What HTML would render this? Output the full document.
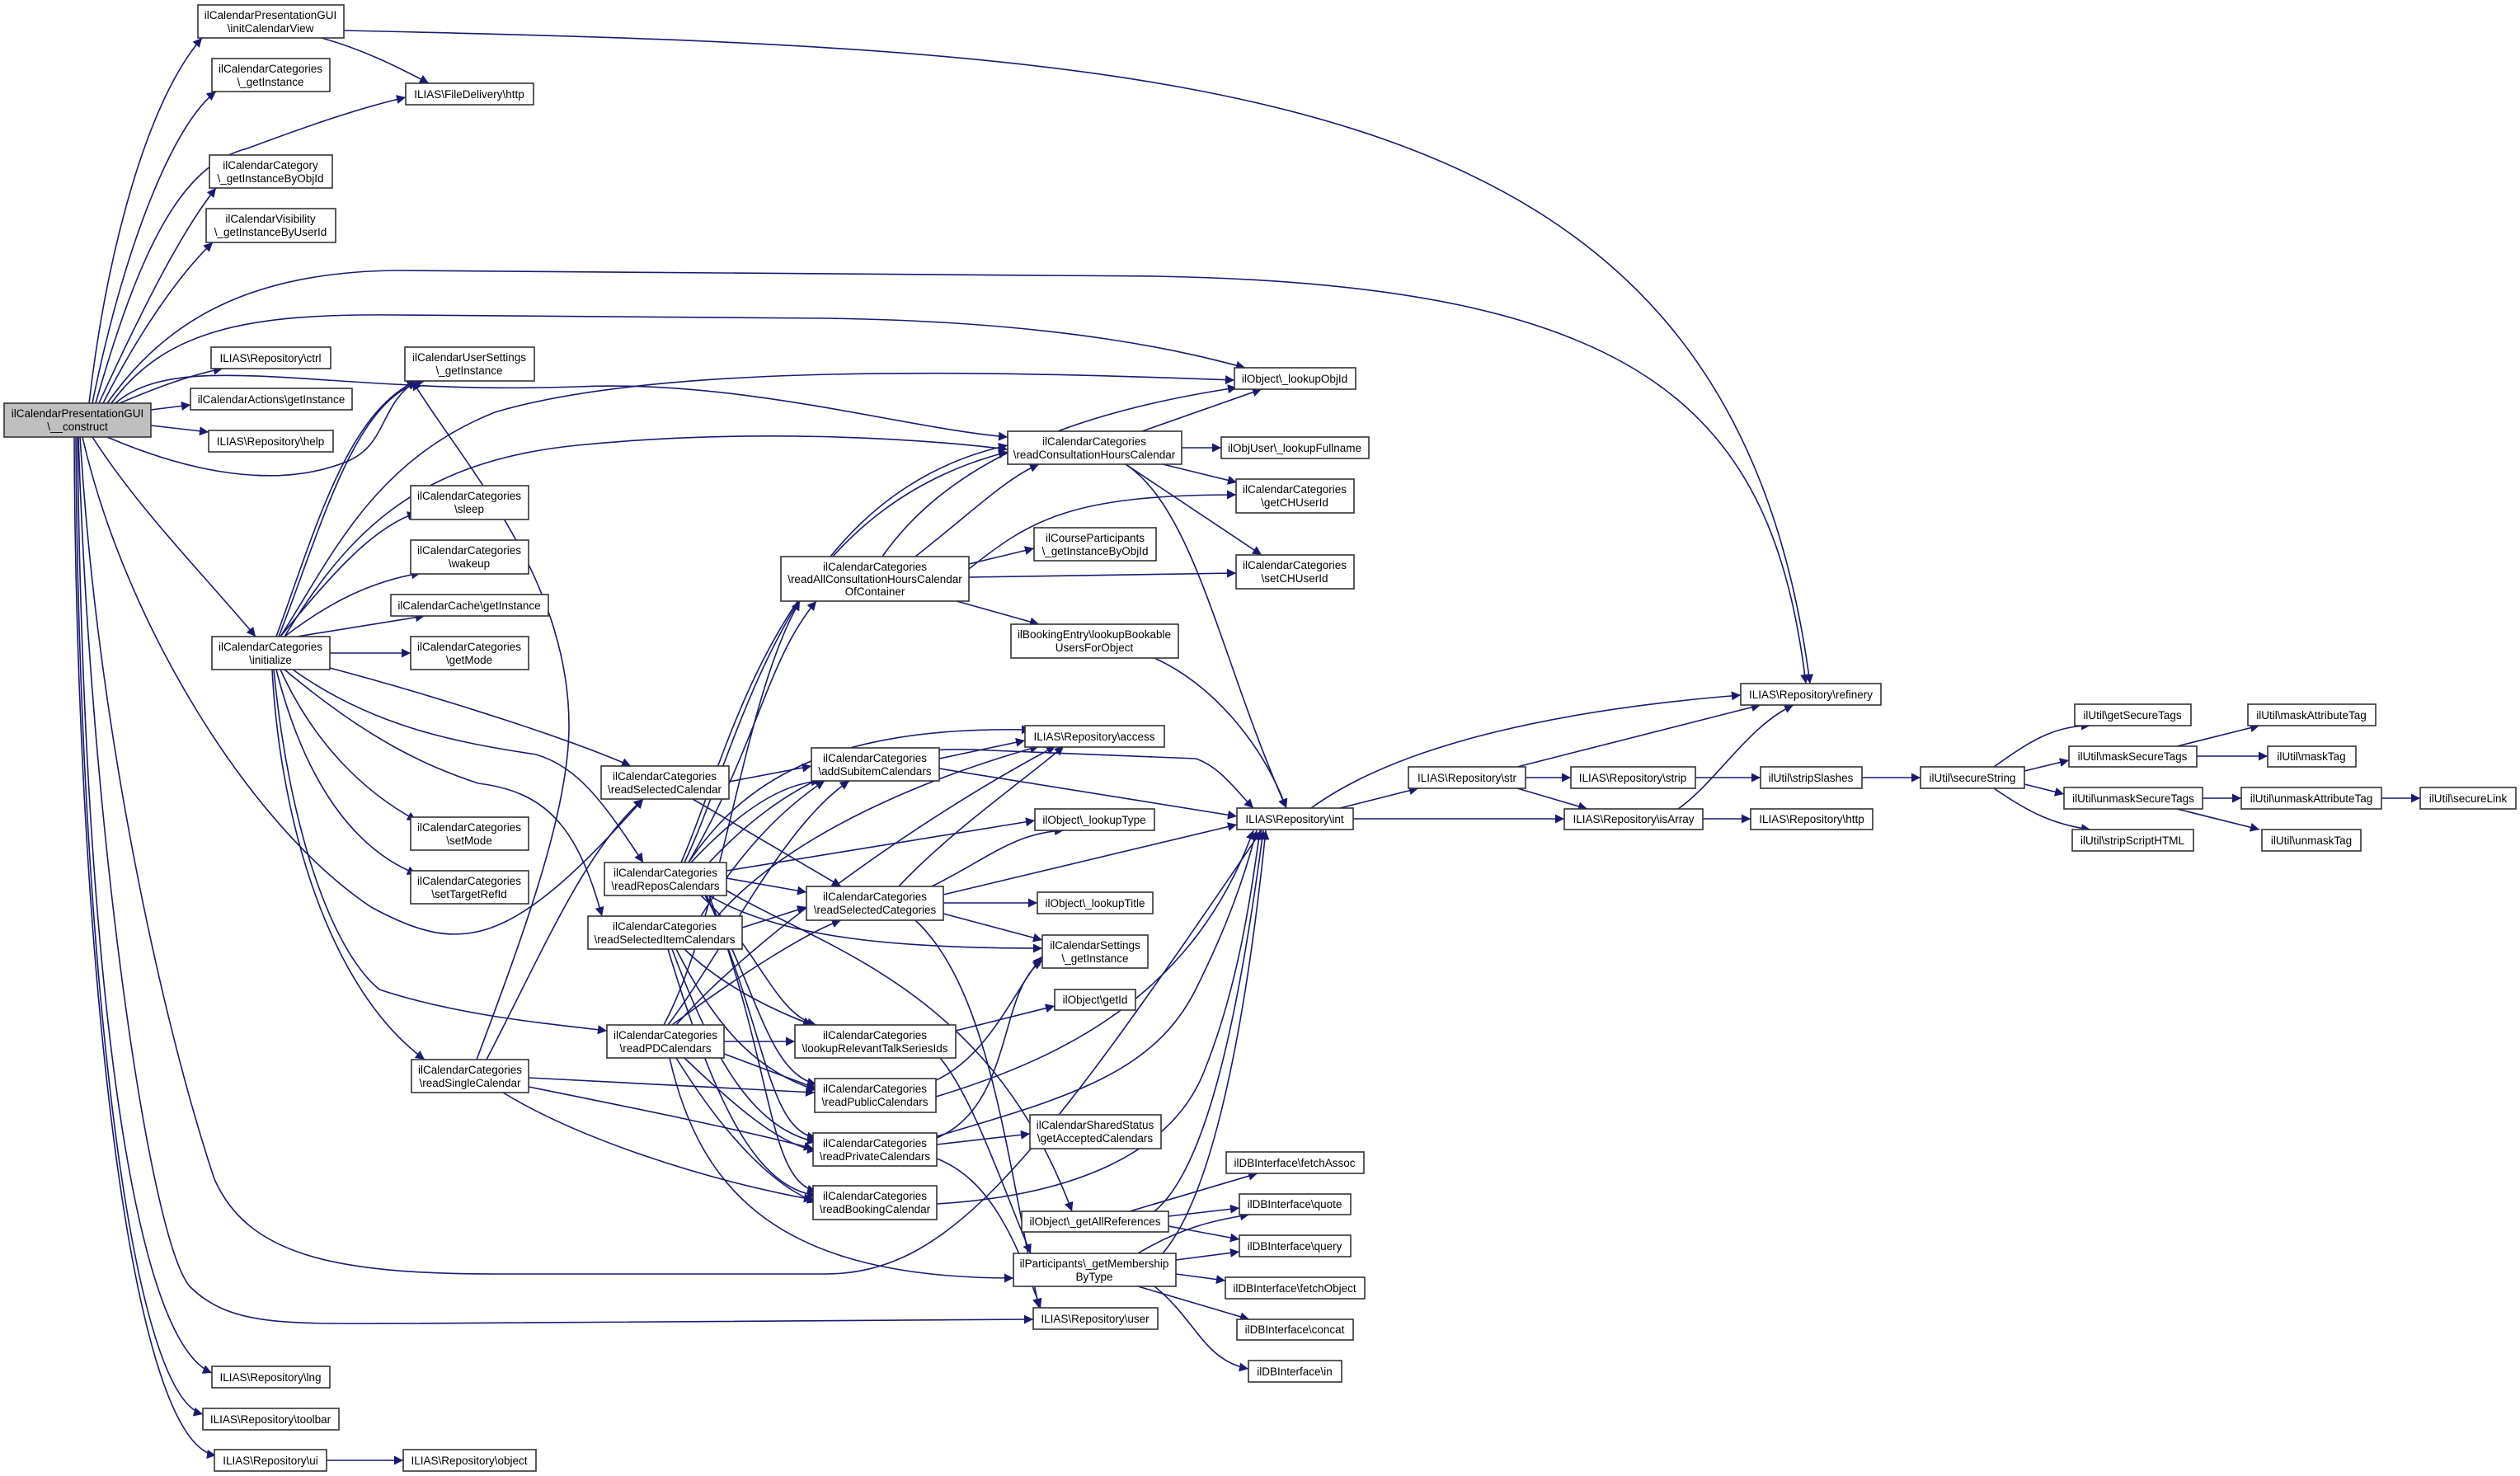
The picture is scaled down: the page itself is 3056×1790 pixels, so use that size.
<!DOCTYPE html>
<html><head><meta charset="utf-8"><style>
html,body{margin:0;padding:0;background:#fff;}
svg{display:block;}
text{font-family:"Liberation Sans",Arial,sans-serif;font-size:13.5px;fill:#000;text-anchor:middle;}
.e{fill:none;stroke:#191970;stroke-width:1.6;marker-end:url(#a);}
rect{fill:#fff;stroke:#333;stroke-width:1.6;}
</style></head><body>
<svg width="3056" height="1790" viewBox="0 0 3056 1790" xmlns="http://www.w3.org/2000/svg">
<defs><marker id="a" viewBox="0 0 10 10" refX="10" refY="5" markerWidth="15" markerHeight="11" markerUnits="userSpaceOnUse" orient="auto"><path d="M0,0 L10,5 L0,10 z" fill="#191970"/></marker></defs>
<g>
<!-- construct -->
<path class="e" d="M108,489 C130,300 180,120 245,46"/>
<path class="e" d="M112,489 C150,300 210,150 262,111"/>
<path class="e" d="M116,489 C170,300 220,200 300,180 C380,150 440,130 492,118"/>
<path class="e" d="M120,489 C170,380 220,280 262,228"/>
<path class="e" d="M125,489 C170,400 220,330 258,294"/>
<path class="e" d="M130,489 C200,390 300,330 480,328 L1400,335 C2000,345 2150,500 2190,829"/>
<path class="e" d="M135,489 C200,400 300,380 480,382 L1000,386 C1300,390 1450,430 1510,446"/>
<path class="e" d="M145,489 C190,470 230,455 270,447"/>
<path class="e" d="M183,497 L231,491"/>
<path class="e" d="M183,516 L253,524"/>
<path class="e" d="M130,530 C200,560 320,600 420,560 C470,540 460,490 505,462"/>
<path class="e" d="M140,489 C220,420 400,480 700,469 C900,460 1100,520 1222,530"/>
<path class="e" d="M112,530 C170,620 250,700 310,772"/>
<path class="e" d="M100,530 C150,750 300,1000 450,1100 C560,1160 620,1150 780,969"/>
<path class="e" d="M97,530 C120,900 200,1250 260,1430 C300,1520 400,1545 600,1545 L1000,1545 C1150,1545 1250,1420 1530,1007"/>
<path class="e" d="M95,530 C110,1000 180,1500 230,1560 C280,1610 350,1605 500,1605 L1253,1600"/>
<path class="e" d="M94,530 C100,1100 150,1620 257,1665"/>
<path class="e" d="M92,530 C95,1100 150,1690 246,1715"/>
<path class="e" d="M90,530 C92,1100 150,1750 262,1765"/>
<path class="e" d="M417,37 C1500,60 2100,100 2195,829"/>
<path class="e" d="M390,46 C440,60 480,80 520,101"/>
<!-- initialize -->
<path class="e" d="M335,772 C380,650 420,500 505,462"/>
<path class="e" d="M338,772 C390,640 430,480 515,462"/>
<path class="e" d="M340,772 C400,680 450,560 600,500 C800,440 1200,450 1497,461"/>
<path class="e" d="M345,772 C420,650 500,560 700,540 C900,520 1100,530 1222,545"/>
<path class="e" d="M340,772 C400,700 450,640 505,622"/>
<path class="e" d="M345,772 C400,730 450,705 510,695"/>
<path class="e" d="M360,772 L515,747"/>
<path class="e" d="M400,792 L498,792"/>
<path class="e" d="M400,810 C550,850 700,900 765,929"/>
<path class="e" d="M355,812 C450,880 550,900 650,915 C700,930 730,970 780,1046"/>
<path class="e" d="M345,812 C450,900 520,930 580,950 C660,960 700,1000 730,1111"/>
<path class="e" d="M340,812 C380,900 440,960 505,995"/>
<path class="e" d="M335,812 C370,950 430,1030 505,1060"/>
<path class="e" d="M332,812 C350,1000 400,1150 460,1200 C550,1230 650,1240 736,1250"/>
<path class="e" d="M330,812 C340,1000 400,1200 515,1285"/>
<!-- readSingle -->
<path class="e" d="M578,1285 C640,1120 690,980 690,880 C690,700 560,560 500,462"/>
<path class="e" d="M590,1285 C660,1150 710,1030 780,969"/>
<path class="e" d="M641,1307 L988,1325"/>
<path class="e" d="M641,1318 C750,1340 900,1370 986,1393"/>
<path class="e" d="M610,1325 C700,1380 850,1430 986,1455"/>
<!-- readSelCal -->
<path class="e" d="M884,948 L984,929"/>
<path class="e" d="M840,969 L1020,1075"/>
<!-- readRepos -->
<path class="e" d="M830,1046 C900,900 950,600 1222,540"/>
<path class="e" d="M826,1046 C890,900 940,620 1222,548"/>
<path class="e" d="M835,1046 C920,900 930,800 990,729"/>
<path class="e" d="M835,1046 C900,950 1000,880 1250,885"/>
<path class="e" d="M838,1046 C900,980 950,950 995,947"/>
<path class="e" d="M881,1056 L1255,995"/>
<path class="e" d="M881,1065 L978,1082"/>
<path class="e" d="M860,1086 C950,1140 1100,1150 1264,1150"/>
<path class="e" d="M850,1086 C920,1150 940,1230 990,1243"/>
<path class="e" d="M855,1086 C920,1200 930,1300 990,1315"/>
<path class="e" d="M857,1086 C930,1250 930,1370 990,1380"/>
<path class="e" d="M860,1086 C940,1300 930,1430 990,1445"/>
<path class="e" d="M881,1080 C1000,1150 1200,1200 1300,1469"/>
<path class="e" d="M860,1046 C950,950 1050,900 1200,910 L1450,920 C1480,930 1500,960 1520,980"/>
<!-- readSelItem -->
<path class="e" d="M900,1125 L978,1100"/>
<path class="e" d="M850,1111 C900,1030 950,980 1000,947"/>
<path class="e" d="M830,1151 C880,1200 950,1230 985,1243"/>
<path class="e" d="M820,1151 C870,1250 920,1300 990,1322"/>
<path class="e" d="M815,1151 C870,1300 920,1370 990,1385"/>
<path class="e" d="M810,1151 C870,1350 920,1440 990,1450"/>
<path class="e" d="M870,1111 C950,1020 1100,950 1260,905"/>
<!-- readPD -->
<path class="e" d="M878,1263 L964,1263"/>
<path class="e" d="M810,1243 C880,1150 950,1000 1030,947"/>
<path class="e" d="M815,1243 C900,1180 980,1130 1020,1116"/>
<path class="e" d="M820,1243 C900,1150 1100,1000 1280,905"/>
<path class="e" d="M878,1278 L990,1320"/>
<path class="e" d="M830,1283 C900,1350 950,1390 990,1395"/>
<path class="e" d="M820,1283 C880,1380 940,1440 990,1458"/>
<path class="e" d="M812,1283 C850,1450 950,1550 1229,1550"/>
<path class="e" d="M805,1243 C880,1100 900,850 970,729"/>
<!-- addSub -->
<path class="e" d="M1139,920 L1243,898"/>
<path class="e" d="M1139,932 L1500,990"/>
<!-- readSelCat -->
<path class="e" d="M1090,1075 C1150,1010 1250,940 1290,905"/>
<path class="e" d="M1130,1075 C1200,1040 1230,1010 1290,1007"/>
<path class="e" d="M1144,1085 L1500,1000"/>
<path class="e" d="M1144,1095 L1258,1095"/>
<path class="e" d="M1144,1108 L1264,1140"/>
<path class="e" d="M1110,1116 C1200,1200 1220,1400 1260,1586"/>
<!-- readAllCons -->
<path class="e" d="M1070,675 C1150,560 1300,500 1500,470"/>
<path class="e" d="M1110,675 C1180,620 1220,580 1260,563"/>
<path class="e" d="M1175,690 C1250,630 1300,600 1499,600"/>
<path class="e" d="M1175,684 L1254,665"/>
<path class="e" d="M1175,700 L1499,695"/>
<path class="e" d="M1160,729 L1260,757"/>
<!-- readConsH -->
<path class="e" d="M1385,523 L1530,472"/>
<path class="e" d="M1433,543 L1481,543"/>
<path class="e" d="M1410,563 L1500,585"/>
<path class="e" d="M1365,563 L1530,673"/>
<path class="e" d="M1365,563 C1450,620 1480,800 1560,980"/>
<path class="e" d="M1400,798 C1470,830 1530,900 1560,980"/>
<!-- lookupRelevant -->
<path class="e" d="M1159,1250 L1279,1220"/>
<path class="e" d="M1140,1283 C1180,1330 1220,1450 1250,1520"/>
<!-- readPublic / private / booking -->
<path class="e" d="M1135,1310 C1200,1280 1230,1200 1264,1160"/>
<path class="e" d="M1135,1330 C1300,1280 1450,1200 1520,1007"/>
<path class="e" d="M1136,1388 L1249,1375"/>
<path class="e" d="M1136,1380 C1230,1340 1210,1200 1264,1165"/>
<path class="e" d="M1136,1405 C1200,1430 1230,1500 1262,1586"/>
<path class="e" d="M1136,1378 C1300,1330 1400,1300 1450,1200 C1490,1120 1510,1060 1524,1007"/>
<path class="e" d="M1136,1460 C1300,1450 1420,1400 1460,1300 C1500,1200 1515,1100 1528,1007"/>
<!-- getAllRef -->
<path class="e" d="M1370,1469 L1525,1423"/>
<path class="e" d="M1417,1475 L1503,1465"/>
<path class="e" d="M1417,1487 L1503,1503"/>
<path class="e" d="M1400,1469 C1460,1420 1500,1250 1532,1007"/>
<!-- membership -->
<path class="e" d="M1380,1520 C1430,1490 1470,1480 1515,1473"/>
<path class="e" d="M1426,1528 L1503,1518"/>
<path class="e" d="M1426,1545 L1486,1553"/>
<path class="e" d="M1380,1560 L1515,1600"/>
<path class="e" d="M1400,1560 C1450,1600 1460,1650 1514,1660"/>
<path class="e" d="M1410,1520 C1470,1450 1510,1250 1535,1007"/>
<!-- int and right part -->
<path class="e" d="M1625,980 L1720,956"/>
<path class="e" d="M1641,993 L1897,993"/>
<path class="e" d="M1590,980 C1700,900 1900,860 2111,843"/>
<path class="e" d="M1840,930 L2135,855"/>
<path class="e" d="M1850,943 L1905,943"/>
<path class="e" d="M1840,956 L1925,981"/>
<path class="e" d="M2056,943 L2135,943"/>
<path class="e" d="M2258,943 L2329,943"/>
<path class="e" d="M2065,993 L2123,993"/>
<path class="e" d="M2035,981 C2080,950 2120,880 2175,855"/>
<path class="e" d="M2418,930 C2460,900 2490,880 2535,880"/>
<path class="e" d="M2455,935 L2509,922"/>
<path class="e" d="M2455,951 L2503,963"/>
<path class="e" d="M2418,956 C2460,985 2490,1000 2535,1006"/>
<path class="e" d="M2640,905 L2740,880"/>
<path class="e" d="M2664,917 L2750,917"/>
<path class="e" d="M2671,968 L2718,968"/>
<path class="e" d="M2640,981 L2740,1006"/>
<path class="e" d="M2888,968 L2935,968"/>
<path class="e" d="M396,1771 L489,1771"/>
</g>
<g>
<rect x="5" y="489" width="178" height="41" style="fill:#bfbfbf"/><text x="94" y="506">ilCalendarPresentationGUI</text><text x="94" y="522">\__construct</text>
<rect x="240" y="6" width="177" height="40"/><text x="328" y="23">ilCalendarPresentationGUI</text><text x="328" y="39">\initCalendarView</text>
<rect x="257" y="71" width="143" height="40"/><text x="328" y="88">ilCalendarCategories</text><text x="328" y="104">\_getInstance</text>
<rect x="492" y="101" width="155" height="26"/><text x="569" y="119">ILIAS\FileDelivery\http</text>
<rect x="254" y="188" width="149" height="40"/><text x="328" y="205">ilCalendarCategory</text><text x="328" y="221">\_getInstanceByObjId</text>
<rect x="250" y="253" width="157" height="41"/><text x="328" y="270">ilCalendarVisibility</text><text x="328" y="286">\_getInstanceByUserId</text>
<rect x="256" y="421" width="145" height="26"/><text x="328" y="439">ILIAS\Repository\ctrl</text>
<rect x="231" y="471" width="196" height="26"/><text x="329" y="489">ilCalendarActions\getInstance</text>
<rect x="253" y="522" width="151" height="26"/><text x="328" y="540">ILIAS\Repository\help</text>
<rect x="491" y="421" width="157" height="41"/><text x="569" y="438">ilCalendarUserSettings</text><text x="569" y="454">\_getInstance</text>
<rect x="498" y="589" width="143" height="41"/><text x="569" y="606">ilCalendarCategories</text><text x="569" y="622">\sleep</text>
<rect x="498" y="655" width="143" height="41"/><text x="569" y="672">ilCalendarCategories</text><text x="569" y="688">\wakeup</text>
<rect x="474" y="721" width="191" height="26"/><text x="569" y="739">ilCalendarCache\getInstance</text>
<rect x="257" y="772" width="143" height="40"/><text x="328" y="789">ilCalendarCategories</text><text x="328" y="805">\initialize</text>
<rect x="498" y="772" width="143" height="40"/><text x="569" y="789">ilCalendarCategories</text><text x="569" y="805">\getMode</text>
<rect x="498" y="991" width="143" height="40"/><text x="569" y="1008">ilCalendarCategories</text><text x="569" y="1024">\setMode</text>
<rect x="498" y="1056" width="143" height="40"/><text x="569" y="1073">ilCalendarCategories</text><text x="569" y="1089">\setTargetRefId</text>
<rect x="729" y="929" width="155" height="40"/><text x="806" y="946">ilCalendarCategories</text><text x="806" y="962">\readSelectedCalendar</text>
<rect x="733" y="1046" width="148" height="40"/><text x="807" y="1063">ilCalendarCategories</text><text x="807" y="1079">\readReposCalendars</text>
<rect x="713" y="1111" width="187" height="40"/><text x="806" y="1128">ilCalendarCategories</text><text x="806" y="1144">\readSelectedItemCalendars</text>
<rect x="736" y="1243" width="142" height="40"/><text x="807" y="1260">ilCalendarCategories</text><text x="807" y="1276">\readPDCalendars</text>
<rect x="499" y="1285" width="142" height="40"/><text x="570" y="1302">ilCalendarCategories</text><text x="570" y="1318">\readSingleCalendar</text>
<rect x="257" y="1657" width="143" height="26"/><text x="328" y="1675">ILIAS\Repository\lng</text>
<rect x="246" y="1708" width="165" height="26"/><text x="328" y="1726">ILIAS\Repository\toolbar</text>
<rect x="260" y="1758" width="136" height="26"/><text x="328" y="1776">ILIAS\Repository\ui</text>
<rect x="489" y="1758" width="161" height="26"/><text x="569" y="1776">ILIAS\Repository\object</text>
<rect x="947" y="675" width="228" height="54"/><text x="1061" y="692">ilCalendarCategories</text><text x="1061" y="707">\readAllConsultationHoursCalendar</text><text x="1061" y="722">OfContainer</text>
<rect x="1222" y="523" width="211" height="40"/><text x="1327" y="540">ilCalendarCategories</text><text x="1327" y="556">\readConsultationHoursCalendar</text>
<rect x="1497" y="446" width="147" height="26"/><text x="1570" y="464">ilObject\_lookupObjId</text>
<rect x="1481" y="530" width="179" height="26"/><text x="1570" y="548">ilObjUser\_lookupFullname</text>
<rect x="1499" y="581" width="143" height="41"/><text x="1570" y="598">ilCalendarCategories</text><text x="1570" y="614">\getCHUserId</text>
<rect x="1254" y="640" width="148" height="40"/><text x="1328" y="657">ilCourseParticipants</text><text x="1328" y="673">\_getInstanceByObjId</text>
<rect x="1499" y="673" width="143" height="41"/><text x="1570" y="690">ilCalendarCategories</text><text x="1570" y="706">\setCHUserId</text>
<rect x="1226" y="757" width="203" height="41"/><text x="1327" y="774">ilBookingEntry\lookupBookable</text><text x="1327" y="790">UsersForObject</text>
<rect x="1243" y="880" width="169" height="26"/><text x="1327" y="898">ILIAS\Repository\access</text>
<rect x="984" y="907" width="155" height="40"/><text x="1061" y="924">ilCalendarCategories</text><text x="1061" y="940">\addSubitemCalendars</text>
<rect x="1500" y="980" width="141" height="26"/><text x="1570" y="998">ILIAS\Repository\int</text>
<rect x="1255" y="981" width="145" height="26"/><text x="1327" y="999">ilObject\_lookupType</text>
<rect x="978" y="1075" width="166" height="41"/><text x="1061" y="1092">ilCalendarCategories</text><text x="1061" y="1108">\readSelectedCategories</text>
<rect x="1258" y="1082" width="140" height="26"/><text x="1328" y="1100">ilObject\_lookupTitle</text>
<rect x="1264" y="1134" width="128" height="40"/><text x="1328" y="1151">ilCalendarSettings</text><text x="1328" y="1167">\_getInstance</text>
<rect x="1279" y="1200" width="98" height="25"/><text x="1328" y="1217">ilObject\getId</text>
<rect x="964" y="1243" width="195" height="40"/><text x="1061" y="1260">ilCalendarCategories</text><text x="1061" y="1276">\lookupRelevantTalkSeriesIds</text>
<rect x="988" y="1308" width="147" height="41"/><text x="1061" y="1325">ilCalendarCategories</text><text x="1061" y="1341">\readPublicCalendars</text>
<rect x="986" y="1374" width="150" height="40"/><text x="1061" y="1391">ilCalendarCategories</text><text x="1061" y="1407">\readPrivateCalendars</text>
<rect x="986" y="1438" width="150" height="41"/><text x="1061" y="1455">ilCalendarCategories</text><text x="1061" y="1471">\readBookingCalendar</text>
<rect x="1249" y="1352" width="159" height="41"/><text x="1328" y="1369">ilCalendarSharedStatus</text><text x="1328" y="1385">\getAcceptedCalendars</text>
<rect x="1487" y="1397" width="167" height="26"/><text x="1570" y="1415">ilDBInterface\fetchAssoc</text>
<rect x="1503" y="1448" width="135" height="25"/><text x="1570" y="1465">ilDBInterface\quote</text>
<rect x="1239" y="1469" width="178" height="25"/><text x="1328" y="1486">ilObject\_getAllReferences</text>
<rect x="1503" y="1498" width="135" height="26"/><text x="1570" y="1516">ilDBInterface\query</text>
<rect x="1229" y="1520" width="197" height="40"/><text x="1327" y="1537">ilParticipants\_getMembership</text><text x="1327" y="1553">ByType</text>
<rect x="1486" y="1549" width="169" height="26"/><text x="1570" y="1567">ilDBInterface\fetchObject</text>
<rect x="1253" y="1586" width="151" height="26"/><text x="1328" y="1604">ILIAS\Repository\user</text>
<rect x="1500" y="1600" width="141" height="25"/><text x="1570" y="1617">ilDBInterface\concat</text>
<rect x="1514" y="1650" width="113" height="26"/><text x="1570" y="1668">ilDBInterface\in</text>
<rect x="2111" y="829" width="170" height="26"/><text x="2196" y="847">ILIAS\Repository\refinery</text>
<rect x="1708" y="930" width="142" height="26"/><text x="1779" y="948">ILIAS\Repository\str</text>
<rect x="1905" y="930" width="151" height="26"/><text x="1980" y="948">ILIAS\Repository\strip</text>
<rect x="2135" y="930" width="123" height="26"/><text x="2196" y="948">ilUtil\stripSlashes</text>
<rect x="2329" y="930" width="126" height="26"/><text x="2392" y="948">ilUtil\secureString</text>
<rect x="1897" y="981" width="168" height="25"/><text x="1981" y="998">ILIAS\Repository\isArray</text>
<rect x="2123" y="981" width="148" height="25"/><text x="2197" y="998">ILIAS\Repository\http</text>
<rect x="2516" y="854" width="141" height="26"/><text x="2586" y="872">ilUtil\getSecureTags</text>
<rect x="2726" y="854" width="155" height="26"/><text x="2803" y="872">ilUtil\maskAttributeTag</text>
<rect x="2509" y="905" width="155" height="25"/><text x="2586" y="922">ilUtil\maskSecureTags</text>
<rect x="2750" y="905" width="107" height="25"/><text x="2803" y="922">ilUtil\maskTag</text>
<rect x="2503" y="955" width="168" height="26"/><text x="2587" y="973">ilUtil\unmaskSecureTags</text>
<rect x="2718" y="955" width="170" height="26"/><text x="2803" y="973">ilUtil\unmaskAttributeTag</text>
<rect x="2935" y="955" width="116" height="26"/><text x="2993" y="973">ilUtil\secureLink</text>
<rect x="2513" y="1006" width="147" height="26"/><text x="2586" y="1024">ilUtil\stripScriptHTML</text>
<rect x="2743" y="1006" width="120" height="26"/><text x="2803" y="1024">ilUtil\unmaskTag</text>
</g>
</svg>
</body></html>
